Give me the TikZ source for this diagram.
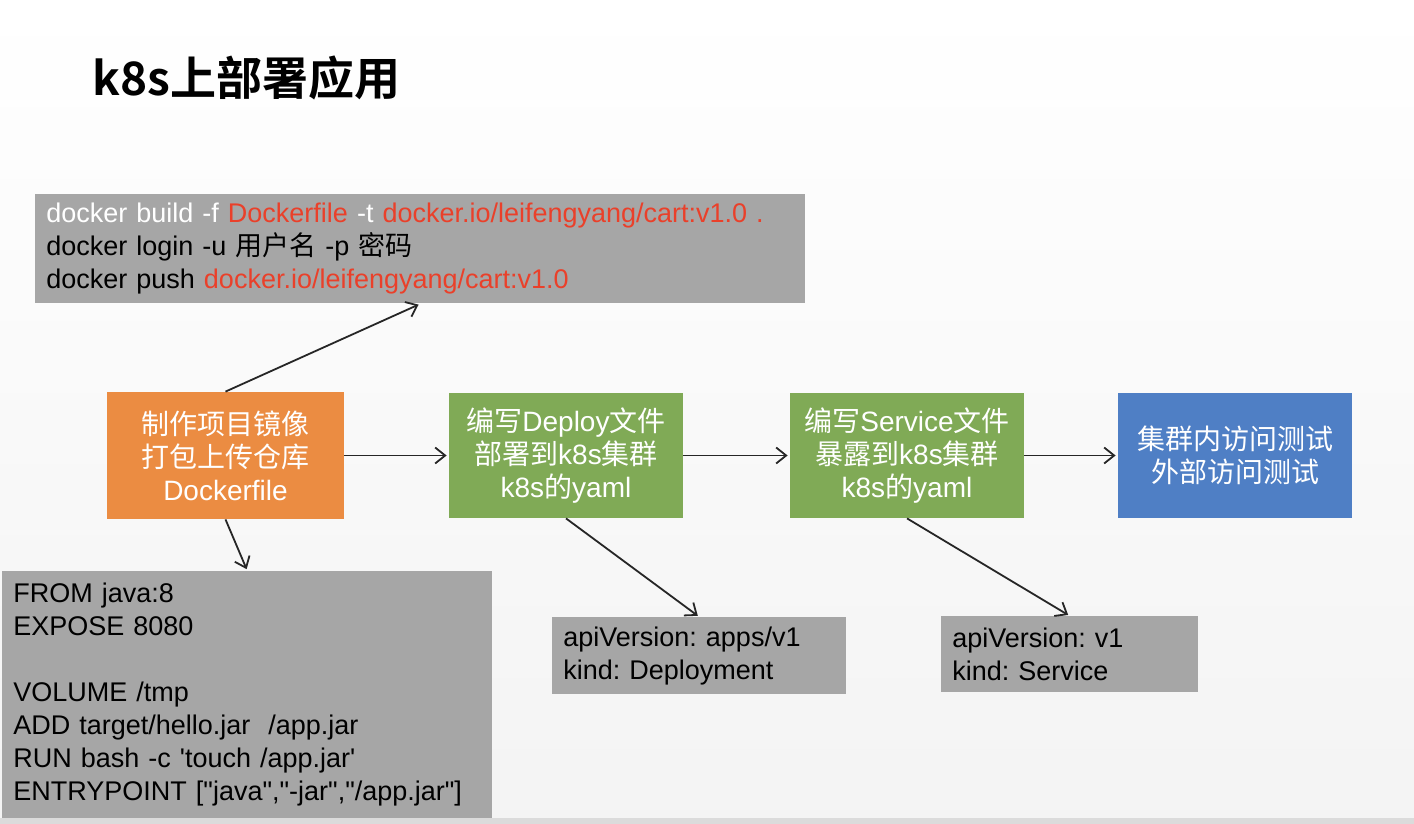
\documentclass[tikz,border=0pt]{standalone}
\usepackage{fontspec}
\setmainfont{Liberation Sans}[Ligatures=TeXOff]
\newfontfamily\cjk{Noto Sans CJK SC}
\newfontfamily\cjkbold{Noto Sans CJK SC Bold}
\usetikzlibrary{positioning,arrows.meta}
\definecolor{kgray}{RGB}{166,166,166}
\definecolor{korange}{RGB}{235,140,66}
\definecolor{kgreen}{RGB}{128,170,86}
\definecolor{kblue}{RGB}{79,127,197}
\definecolor{kred}{RGB}{234,64,42}
\newcommand{\zh}[1]{{\cjk #1}}
\frenchspacing

\begin{document}
\begin{tikzpicture}[
    x=0.5pt, y=-0.5pt,
    stepbox/.style={rectangle, text=white, align=center, inner sep=0pt,
                    font=\fontsize{14pt}{16.5pt}\selectfont},
    codebox/.style={rectangle, fill=kgray, anchor=north west, align=left,
                    inner xsep=5.5pt, inner ysep=0pt,
                    font=\fontsize{13.5pt}{16.5pt}\selectfont},
    arr/.style={-{Straight Barb[length=5pt,width=8pt]}, line width=0.9pt,
                color=black!85, shorten >=1pt},
  ]

  %% background
  \fill[top color=white, bottom color=gray!9] (0,0) rectangle (1414,818);
  \fill[gray!28] (0,818) rectangle (1414,824);
  \useasboundingbox (0,0) rectangle (1414,824);

  %% title
  \node[anchor=west, inner sep=0pt, font=\fontsize{23pt}{25pt}\cjkbold] (title) at (92,78)
    {k8s上部署应用};

  %% main row
  \node[stepbox, fill=korange, minimum width=118.5pt, minimum height=63.5pt] (img) at (225.5,455.5)
    {\zh{制作项目镜像}\\\zh{打包上传仓库}\\Dockerfile};
  \node[stepbox, fill=kgreen, minimum width=117pt, minimum height=62.5pt] (deploy) at (566,455.5)
    {\zh{编写}Deploy\zh{文件}\\\zh{部署到}k8s\zh{集群}\\k8s\zh{的}yaml};
  \node[stepbox, fill=kgreen, minimum width=117pt, minimum height=62.5pt] (svc) at (907,455.5)
    {\zh{编写}Service\zh{文件}\\\zh{暴露到}k8s\zh{集群}\\k8s\zh{的}yaml};
  \node[stepbox, fill=kblue, minimum width=117pt, minimum height=62.5pt] (test) at (1235,455.5)
    {\zh{集群内访问测试}\\\zh{外部访问测试}};

  %% code boxes
  \node[codebox, text width=374pt, minimum height=54.5pt] (push) at (35,194)
    {\textcolor{white}{docker build -f}\ \textcolor{kred}{Dockerfile}\ \textcolor{white}{-t}\ \textcolor{kred}{docker.io/leifengyang/cart:v1.0 .}\\
     docker login -u \zh{用户名} -p \zh{密码}\\
     docker push \textcolor{kred}{docker.io/leifengyang/cart:v1.0}};
  \node[codebox, text width=234pt, minimum height=123.5pt] (dfile) at (2,571)
    {FROM java:8\\
     EXPOSE 8080\\[16.5pt]
     VOLUME /tmp\\
     ADD target/hello.jar\ \ /app.jar\\
     RUN bash -c 'touch /app.jar'\\
     ENTRYPOINT ["java","-jar","/app.jar"]};
  \node[codebox, text width=136pt, minimum height=38.5pt] (dyaml) at (552,617)
    {apiVersion: apps/v1\\kind: Deployment};
  \node[codebox, text width=117.5pt, minimum height=38pt] (syaml) at (941,616)
    {apiVersion: v1\\kind: Service};

  %% arrows
  \draw[arr] (img.north)  -- (push.south);
  \draw[arr] (img.south)  -- (dfile.north);
  \draw[arr] (img.east)   -- (deploy.west);
  \draw[arr] (deploy.east) -- (svc.west);
  \draw[arr] (svc.east)   -- (test.west);
  \draw[arr] (deploy.south) -- (dyaml.north);
  \draw[arr] (svc.south)  -- (syaml.north);

\end{tikzpicture}
\end{document}
